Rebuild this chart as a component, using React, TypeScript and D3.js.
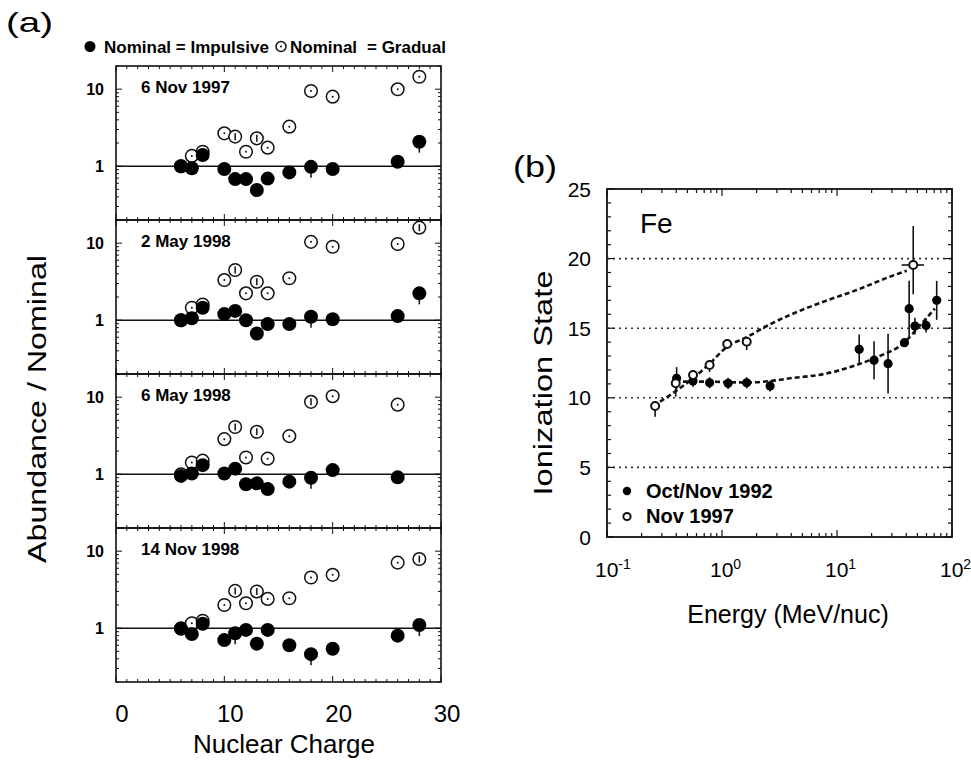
import React from "react";
import * as d3 from "d3";

// ---------- Panel (a) data ----------
const charges = [6, 7, 8, 10, 11, 12, 13, 14, 16, 18, 20, 26, 28];
const eventLabels = ["6 Nov 1997", "2 May 1998", "6 May 1998", "14 Nov 1998"];
const impulsiveNov1997 = [1.0, 0.94, 1.4, 0.92, 0.68, 0.68, 0.49, 0.69, 0.83, 0.98, 0.92, 1.14, 2.08];
const impulsiveMay2 = [1.0, 1.06, 1.45, 1.2, 1.32, 1.0, 0.67, 0.89, 0.89, 1.11, 1.03, 1.13, 2.23];
const impulsiveMay6 = [0.95, 1.02, 1.31, 1.02, 1.18, 0.74, 0.76, 0.64, 0.8, 0.9, 1.13, 0.91, null];
const impulsiveNov1998 = [0.98, 0.84, 1.14, 0.7, 0.86, 0.95, 0.63, 0.95, 0.6, 0.46, 0.54, 0.8, 1.1];
const gradualNov1997 = [1.0, 1.36, 1.54, 2.67, 2.42, 1.54, 2.3, 1.74, 3.26, 9.47, 8.0, 9.96, 14.5];
const gradualMay2 = [1.0, 1.45, 1.6, 3.32, 4.48, 2.23, 3.16, 2.23, 3.5, 10.4, 9.0, 9.76, 15.9];
const gradualMay6 = [1.0, 1.42, 1.5, 2.85, 4.1, 1.65, 3.55, 1.59, 3.12, 8.7, 10.3, 8.0, null];
const gradualNov1998 = [1.0, 1.16, 1.25, 2.0, 3.05, 2.11, 3.0, 2.4, 2.45, 4.55, 4.93, 7.1, 7.9];
// gradual points drawn with a visible error bar inside the circle (indices into charges)
const gradualWithBar = [[4, 6], [4, 6, 12], [4, 6, 9], [4, 6, 12]];
// impulsive points with a visible lower error tail
const impulsiveWithTail = [[9, 12], [9, 12], [9], [9, 4, 12]];
const impulsiveSeries = [impulsiveNov1997, impulsiveMay2, impulsiveMay6, impulsiveNov1998];
const gradualSeries = [gradualNov1997, gradualMay2, gradualMay6, gradualNov1998];
const chargeTicks = [0, 10, 20, 30];
const ratioTickLabels = [1, 10];

// ---------- Panel (b) data ----------
const energy1992 = [0.403, 0.56, 0.78, 1.13, 1.64, 2.62, 15.6, 21, 27.8, 38.6, 42.4, 47.6, 59.5, 73.6];
const charge1992 = [11.4, 11.2, 11.08, 11.04, 11.08, 10.85, 13.48, 12.7, 12.45, 13.96, 16.4, 15.15, 15.2, 17.0];
const err1992 = [0.8, 0.4, 0.4, 0.4, 0.4, 0.4, 1.07, 1.37, 2.15, 0.3, 2.0, 0.6, 0.5, 1.4];
const energy1997 = [0.262, 0.396, 0.56, 0.78, 1.11, 1.64, 46];
const charge1997 = [9.41, 11.04, 11.64, 12.36, 13.86, 14.03, 19.54];
const errLo1997 = [0.77, 0.96, 0.3, 0.5, 0.3, 0.6, 2.1];
const errHi1997 = [0.3, 0.3, 0.3, 0.3, 0.3, 0.3, 2.8];
const energyRange1997 = [[0.262, 0.262], [0.396, 0.396], [0.56, 0.56], [0.78, 0.78], [1.11, 1.11], [1.64, 1.64], [36.5, 57]];
const fit1997E = [0.289, 0.39, 0.56, 0.786, 1.11, 1.64, 2.45, 3.9, 7.6, 14.8, 28.8, 40.4];
const fit1997Q = [9.72, 10.44, 11.4, 12.48, 13.67, 14.35, 15.16, 15.95, 16.9, 17.74, 18.7, 19.13];
const fit1992E = [0.39, 0.74, 1.64, 2.62, 3.9, 7.6, 14.8, 23.6, 37.6, 53, 71];
const fit1992Q = [11.16, 11.16, 11.1, 11.2, 11.4, 11.7, 12.36, 13.0, 13.9, 15.23, 16.4];
const energyTicks = [0.1, 1, 10, 100];
const energyExponents = ["-1", "0", "1", "2"];
const stateTicks = [0, 5, 10, 15, 20, 25];
const stateGrid = [5, 10, 15, 20];
const legendB = ["Oct/Nov 1992", "Nov 1997"];

const FONT = "'Liberation Sans', Arial, Helvetica, sans-serif";

function PanelA({ idx, top, height }: { idx: number; top: number; height: number }) {
  const x = d3.scaleLinear().domain([0, 30]).range([116, 441]);
  const y = d3.scaleLog().domain([0.2, 20]).range([top + height, top]);
  const [x0, x1] = x.range();
  const minorX = d3.range(0, 31, 1);
  const yTicks = y.ticks();
  const imp = impulsiveSeries[idx];
  const grad = gradualSeries[idx];
  return (
    <g>
      {minorX.map((v) => {
        const len = v % 10 === 0 ? 6 : 3;
        return (
          <g key={"xt" + v}>
            <line x1={x(v)} x2={x(v)} y1={top} y2={top + len} stroke="#111" strokeWidth={1} />
            <line x1={x(v)} x2={x(v)} y1={top + height} y2={top + height - len} stroke="#111" strokeWidth={1} />
          </g>
        );
      })}
      {yTicks.map((v) => {
        const major = ratioTickLabels.includes(v);
        const len = major ? 6 : 3;
        return (
          <g key={"yt" + v}>
            <line x1={x0} x2={x0 + len} y1={y(v)} y2={y(v)} stroke="#111" strokeWidth={1} />
            <line x1={x1} x2={x1 - len} y1={y(v)} y2={y(v)} stroke="#111" strokeWidth={1} />
          </g>
        );
      })}
      {ratioTickLabels.map((v) => (
        <text key={"yl" + v} x={104} y={y(v) + 6} textAnchor="end" fontFamily={FONT} fontWeight="bold" fontSize={16}>
          {v}
        </text>
      ))}
      <rect x={x0} y={top} width={x1 - x0} height={height} fill="none" stroke="#111" strokeWidth={1.6} />
      <line x1={x0} x2={x1} y1={y(1)} y2={y(1)} stroke="#111" strokeWidth={1.4} />
      <text x={141} y={top + 27} fontFamily={FONT} fontWeight="bold" fontSize={17}>
        {eventLabels[idx]}
      </text>
      {grad.map((v, i) =>
        v == null ? null : (
          <g key={"g" + i}>
            <circle cx={x(charges[i])} cy={y(v)} r={6.3} fill="#fff" stroke="#111" strokeWidth={1.5} />
            {gradualWithBar[idx].includes(i) ? (
              <line x1={x(charges[i])} x2={x(charges[i])} y1={y(v) - 3.5} y2={y(v) + 3.5} stroke="#111" strokeWidth={1.5} />
            ) : (
              <circle cx={x(charges[i])} cy={y(v)} r={1} fill="#111" />
            )}
          </g>
        )
      )}
      {imp.map((v, i) =>
        v == null ? null : (
          <g key={"f" + i}>
            {impulsiveWithTail[idx].includes(i) ? (
              <line x1={x(charges[i])} x2={x(charges[i])} y1={y(v)} y2={y(v) + 11} stroke="#111" strokeWidth={1.5} />
            ) : null}
            <circle cx={x(charges[i])} cy={y(v)} r={7} fill="#000" />
          </g>
        )
      )}
    </g>
  );
}

function ChartA() {
  const tops = [66, 220, 374, 528];
  const h = 154;
  const x = d3.scaleLinear().domain([0, 30]).range([116, 441]);
  return (
    <g>
      <text x={6} y={32} fontFamily={FONT} fontSize={28} textLength={47} lengthAdjust="spacingAndGlyphs">
        (a)
      </text>
      <circle cx={90} cy={46.5} r={5.5} fill="#000" />
      <text x={104} y={52.5} fontFamily={FONT} fontWeight="bold" fontSize={17}>
        Nominal = Impulsive
      </text>
      <circle cx={281} cy={46.5} r={5} fill="#fff" stroke="#111" strokeWidth={1.5} />
      <circle cx={281} cy={46.5} r={1} fill="#111" />
      <text x={290} y={52.5} fontFamily={FONT} fontWeight="bold" fontSize={17}>
        Nominal
      </text>
      <text x={367} y={52.5} fontFamily={FONT} fontWeight="bold" fontSize={17}>
        = Gradual
      </text>
      {tops.map((t, i) => (
        <PanelA key={i} idx={i} top={t} height={h} />
      ))}
      {chargeTicks.map((v) => (
        <text key={v} x={x(v) + 6} y={722} textAnchor="middle" fontFamily={FONT} fontSize={24}>
          {v}
        </text>
      ))}
      <text x={284} y={753} textAnchor="middle" fontFamily={FONT} fontSize={26}>
        Nuclear Charge
      </text>
      <text
        transform="translate(46,409) rotate(-90)"
        textAnchor="middle"
        fontFamily={FONT}
        fontSize={25}
        textLength={308}
        lengthAdjust="spacingAndGlyphs"
      >
        Abundance / Nominal
      </text>
    </g>
  );
}

function ChartB() {
  const x = d3.scaleLog().domain([0.1, 100]).range([607, 952]);
  const y = d3.scaleLinear().domain([0, 25]).range([537, 189]);
  const [x0, x1] = x.range();
  const [yb, yt] = y.range();
  const xMinor = x.ticks();
  const yMinor = d3.range(0, 26, 1);
  const line = d3
    .line<[number, number]>()
    .x((d) => x(d[0]))
    .y((d) => y(d[1]))
    .curve(d3.curveMonotoneX);
  const fit97 = fit1997E.map((e, i) => [e, fit1997Q[i]] as [number, number]);
  const fit92 = fit1992E.map((e, i) => [e, fit1992Q[i]] as [number, number]);
  return (
    <g>
      <text x={513} y={177} fontFamily={FONT} fontSize={30} textLength={44} lengthAdjust="spacingAndGlyphs">
        (b)
      </text>
      {stateGrid.map((v) => (
        <line key={"g" + v} x1={x0} x2={x1} y1={y(v)} y2={y(v)} stroke="#333" strokeWidth={1.6} strokeDasharray="2,4" />
      ))}
      {xMinor.map((v, i) => {
        const major = energyTicks.some((t) => Math.abs(t - v) < 1e-9);
        const len = major ? 7 : 4;
        return (
          <g key={"xt" + i}>
            <line x1={x(v)} x2={x(v)} y1={yt} y2={yt + len} stroke="#111" strokeWidth={1.2} />
            <line x1={x(v)} x2={x(v)} y1={yb} y2={yb - len} stroke="#111" strokeWidth={1.2} />
          </g>
        );
      })}
      {yMinor.map((v) => {
        const len = v % 5 === 0 ? 7 : 4;
        return (
          <g key={"yt" + v}>
            <line x1={x0} x2={x0 + len} y1={y(v)} y2={y(v)} stroke="#111" strokeWidth={1.2} />
            <line x1={x1} x2={x1 - len} y1={y(v)} y2={y(v)} stroke="#111" strokeWidth={1.2} />
          </g>
        );
      })}
      <rect x={x0} y={yt} width={x1 - x0} height={yb - yt} fill="none" stroke="#111" strokeWidth={1.8} />
      {stateTicks.map((v) => (
        <text key={"yl" + v} x={591} y={y(v) + 7.5} textAnchor="end" fontFamily={FONT} fontSize={21}>
          {v}
        </text>
      ))}
      {energyTicks.map((v, i) => (
        <text key={"xl" + v} x={x(v) - 12} y={577} fontFamily={FONT} fontSize={21}>
          10
          <tspan dy={-8} fontSize={14}>
            {energyExponents[i]}
          </tspan>
        </text>
      ))}
      <text x={788} y={623} textAnchor="middle" fontFamily={FONT} fontSize={25}>
        Energy (MeV/nuc)
      </text>
      <text
        transform="translate(552,383) rotate(-90)"
        textAnchor="middle"
        fontFamily={FONT}
        fontSize={25}
        textLength={225}
        lengthAdjust="spacingAndGlyphs"
      >
        Ionization State
      </text>
      <text x={640} y={233} fontFamily={FONT} fontSize={28}>
        Fe
      </text>
      <path d={line(fit97) || ""} fill="none" stroke="#111" strokeWidth={2.6} strokeDasharray="5,3" />
      <path d={line(fit92) || ""} fill="none" stroke="#111" strokeWidth={2.6} strokeDasharray="5,3" />
      {energy1992.map((e, i) => (
        <g key={"p92" + i}>
          <line
            x1={x(e)}
            x2={x(e)}
            y1={y(charge1992[i] - err1992[i])}
            y2={y(charge1992[i] + err1992[i])}
            stroke="#111"
            strokeWidth={1.6}
          />
          <circle cx={x(e)} cy={y(charge1992[i])} r={4.6} fill="#000" />
        </g>
      ))}
      {energy1997.map((e, i) => (
        <g key={"p97" + i}>
          <line
            x1={x(e)}
            x2={x(e)}
            y1={y(charge1997[i] - errLo1997[i])}
            y2={y(charge1997[i] + errHi1997[i])}
            stroke="#111"
            strokeWidth={1.6}
          />
          {energyRange1997[i][1] > energyRange1997[i][0] ? (
            <line
              x1={x(energyRange1997[i][0])}
              x2={x(energyRange1997[i][1])}
              y1={y(charge1997[i])}
              y2={y(charge1997[i])}
              stroke="#111"
              strokeWidth={1.6}
            />
          ) : null}
          <circle cx={x(e)} cy={y(charge1997[i])} r={4} fill="#fff" stroke="#111" strokeWidth={2} />
        </g>
      ))}
      <circle cx={627} cy={491} r={4.2} fill="#000" />
      <text x={646} y={497.5} fontFamily={FONT} fontWeight="bold" fontSize={20}>
        {legendB[0]}
      </text>
      <circle cx={627} cy={516.5} r={3.6} fill="#fff" stroke="#111" strokeWidth={2} />
      <text x={646} y={523} fontFamily={FONT} fontWeight="bold" fontSize={20}>
        {legendB[1]}
      </text>
    </g>
  );
}

export default function App() {
  return (
    <svg
      width={971}
      height={760}
      viewBox="0 0 971 760"
      style={{ position: "absolute", left: 0, top: 0, background: "#fff" }}
    >
      <rect x={0} y={0} width={971} height={760} fill="#fff" />
      <ChartA />
      <ChartB />
    </svg>
  );
}
